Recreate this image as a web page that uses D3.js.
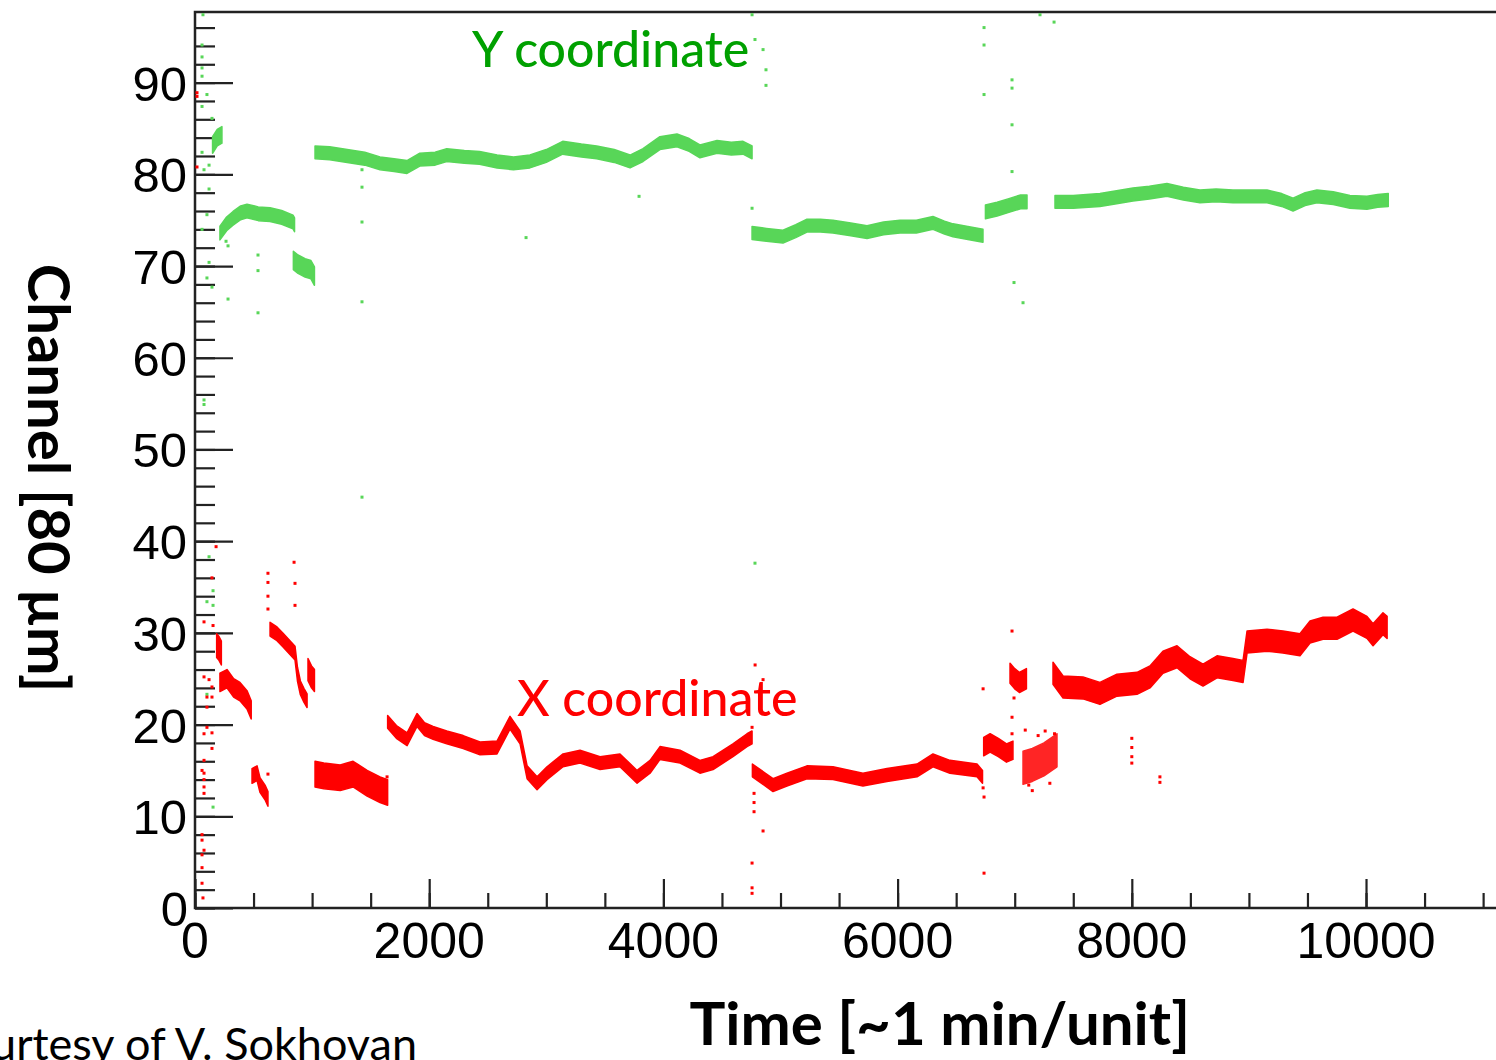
<!DOCTYPE html>
<html>
<head>
<meta charset="utf-8">
<script src="https://cdn.jsdelivr.net/npm/d3@7"></script>
<style>
  body { margin: 0; background: #fff; }
  svg { display: block; }
  .tick-label { font-family: "Liberation Sans", Arial, sans-serif; fill: #000; }
  .title { font-family: Lato, "DejaVu Sans", sans-serif; }
</style>
</head>
<body>
<svg id="chart" width="1496" height="1060"></svg>
<script>
// ---- data: [time, channel] ----
// Y coordinate (green) tracks
const yTrackA = [[150, 83.2], [190, 84.0], [230, 84.3]];
const yTrackB = [[213, 73.6], [270, 74.6], [325, 75.2], [390, 75.8], [444, 76.0], [540, 75.7], [641, 75.6], [740, 75.3], [837, 74.8], [850, 74.5]];
const yTrackC = [[840, 70.6], [880, 70.2], [940, 69.8], [990, 69.6], [1020, 68.9]];
const yTrackD = [[1025, 82.4], [1150, 82.3], [1300, 82.0], [1450, 81.7], [1580, 81.2], [1700, 81.0], [1810, 80.8], [1920, 81.6], [2050, 81.7], [2150, 82.1], [2300, 81.9], [2430, 81.8], [2580, 81.4], [2720, 81.2], [2860, 81.4], [3000, 82.0], [3140, 82.9], [3300, 82.6], [3430, 82.4], [3580, 82.0], [3715, 81.4], [3826, 82.1], [3970, 83.4], [4116, 83.7], [4220, 83.2], [4312, 82.5], [4458, 83.0], [4580, 82.8], [4680, 82.9], [4757, 82.4]];
const yTrackE = [[4757, 73.6], [4880, 73.4], [5021, 73.2], [5130, 73.8], [5226, 74.4], [5340, 74.4], [5448, 74.3], [5600, 74.0], [5739, 73.7], [5880, 74.1], [6020, 74.3], [6160, 74.3], [6302, 74.7], [6400, 74.2], [6473, 73.9], [6600, 73.6], [6729, 73.3]];
const yTrackF = [[6750, 75.9], [6850, 76.2], [6950, 76.6], [7050, 77.0], [7105, 77.0]];
const yTrackG = [[7344, 77.0], [7500, 77.0], [7728, 77.2], [7870, 77.5], [8010, 77.8], [8150, 78.0], [8300, 78.3], [8440, 77.9], [8582, 77.6], [8720, 77.7], [8864, 77.6], [9010, 77.6], [9155, 77.6], [9280, 77.2], [9377, 76.7], [9480, 77.3], [9581, 77.6], [9720, 77.4], [9863, 77.0], [10008, 76.9], [10100, 77.1], [10190, 77.2]];

// X coordinate (red) tracks
const xTrackA = [[185, 28.6], [205, 28.3], [225, 27.8]];
const xTrackB = [[213, 24.6], [273, 25.0], [330, 24.0], [384, 23.6], [444, 22.7], [480, 21.6]];
const xTrackC = [[487, 14.4], [530, 14.7], [555, 13.4], [598, 12.6], [623, 11.9]];
const xTrackD = [[641, 30.4], [700, 29.9], [752, 29.2], [811, 28.4], [854, 27.8], [875, 25.5], [900, 24.0], [930, 23.2], [957, 22.6]];
const xTrackE = [[965, 26.0], [995, 25.2], [1020, 24.8]];
const xTrackF = [[1025, 14.6], [1100, 14.4], [1240, 14.2], [1350, 14.6], [1470, 13.6], [1580, 12.9], [1645, 12.6]];
const xTrackG = [[1645, 20.3], [1720, 19.2], [1811, 18.4], [1896, 20.5], [1960, 19.5], [2033, 19.1], [2150, 18.6], [2290, 18.1], [2434, 17.4], [2579, 17.5], [2690, 20.2], [2776, 18.6], [2836, 14.8], [2921, 13.6], [3006, 14.7], [3143, 16.1], [3288, 16.5], [3459, 15.8], [3629, 16.1], [3775, 14.3], [3886, 15.4], [3971, 16.9], [4142, 16.5], [4312, 15.4], [4424, 15.8], [4594, 17.2], [4714, 18.3], [4757, 18.6]];
const xTrackH = [[4760, 15.0], [4936, 13.4], [5055, 14.0], [5226, 14.8], [5448, 14.7], [5704, 14.0], [5909, 14.5], [6166, 15.0], [6302, 16.1], [6447, 15.4], [6678, 15.0], [6725, 14.3]];
const xTrackI = [[6735, 17.6], [6790, 18.0], [6860, 17.5], [6930, 16.9], [6985, 17.2]];
const xTrackJ = [[6960, 25.6], [7000, 25.0], [7040, 24.6], [7100, 25.0]];
const xTrackK = [[7071, 15.3], [7150, 15.6], [7250, 16.2], [7361, 17.2]];
const xTrackL = [[7327, 25.6], [7413, 24.1], [7583, 24.0], [7728, 23.4], [7873, 24.3], [8044, 24.5], [8155, 25.2], [8266, 26.8], [8386, 27.4], [8497, 26.2], [8608, 25.4], [8728, 26.3], [8864, 26.0], [8950, 25.8], [8984, 29.0], [9155, 29.2], [9291, 29.0], [9436, 28.7], [9522, 30.1], [9633, 30.5], [9752, 30.5], [9889, 31.4], [10008, 30.6], [10060, 29.8], [10145, 31.0], [10180, 30.6]];

// vertical spread of each track, in channels
const yTracks = [yTrackA, yTrackB, yTrackC, yTrackD, yTrackE, yTrackF, yTrackG];
const ySpread = [1.8, 1.5, 2.0, 1.4, 1.4, 1.5, 1.4];
const xTracks = [xTrackA, xTrackB, xTrackC, xTrackD, xTrackE, xTrackF, xTrackG, xTrackH, xTrackI, xTrackJ, xTrackK, xTrackL];
const xSpread = [2.6, 2.0, 1.6, 1.5, 2.4, 2.8, 1.4, 1.4, 2.0, 2.2, 3.6, 2.4];

// single stray points
const greenOutliers = [[68, 97.4], [60, 94.1], [60, 92.8], [60, 91.6], [60, 90.7], [102, 88.7], [60, 87.4], [145, 86.1], [60, 82.4], [120, 81.0], [77, 80.5], [120, 78.4], [102, 75.6], [60, 74.0], [265, 72.7], [282, 72.2], [120, 70.4], [102, 68.7], [145, 67.7], [282, 66.4], [77, 55.4], [77, 54.9], [120, 38.3], [154, 34.6], [102, 33.4], [154, 33.0], [102, 23.3], [154, 11.0], [538, 71.2], [538, 69.5], [538, 64.9], [1426, 80.5], [1426, 78.6], [1426, 74.8], [1426, 66.1], [1426, 44.8], [2827, 73.1], [3792, 77.6], [4757, 97.4], [4782, 94.7], [4851, 93.6], [4876, 91.4], [4876, 89.7], [4757, 76.3], [4782, 37.6], [6738, 96.0], [6738, 94.1], [6738, 88.7], [6977, 90.3], [6977, 89.4], [6977, 85.4], [6977, 80.3], [6994, 68.2], [7071, 66.0], [7216, 97.4], [7336, 96.6]];
const redOutliers = [[17, 88.9], [17, 88.5], [17, 80.8], [180, 39.4], [145, 36.0], [77, 31.2], [154, 30.8], [77, 25.2], [120, 24.9], [145, 24.1], [102, 23.0], [145, 23.0], [102, 21.9], [102, 19.7], [77, 19.0], [145, 19.1], [145, 17.4], [77, 16.1], [60, 15.0], [77, 14.7], [77, 14.0], [77, 13.2], [77, 12.5], [60, 8.0], [60, 7.4], [77, 6.3], [60, 5.8], [60, 4.4], [60, 2.7], [68, 1.1], [623, 36.5], [623, 35.5], [623, 34.0], [623, 32.6], [846, 37.7], [854, 35.4], [854, 33.0], [623, 14.6], [1640, 14.3], [4757, 19.7], [4783, 26.5], [4851, 24.9], [4774, 12.5], [4774, 11.5], [4774, 10.5], [4851, 8.4], [4757, 4.9], [4757, 2.2], [4757, 1.6], [6730, 23.9], [6730, 13.1], [6738, 12.1], [6738, 3.8], [6977, 30.2], [6977, 20.8], [6977, 19.0], [6994, 22.9], [7090, 19.4], [7120, 13.4], [7200, 18.8], [7300, 13.6], [7340, 19.0], [7260, 19.3], [7150, 12.8], [8000, 18.5], [8000, 17.5], [8000, 16.5], [8000, 15.8], [8240, 14.3], [8240, 13.7]];

const xMajorTicks = [0, 2000, 4000, 6000, 8000, 10000];
const yMajorTicks = [0, 10, 20, 30, 40, 50, 60, 70, 80, 90];

// ---- layout ----
const svg = d3.select("#chart");
const frameLeft = 195, frameBottom = 908, frameTop = 12, frameRight = 1496;
const xScale = d3.scaleLinear().domain([0, 11110]).range([frameLeft, frameRight]);
const yScale = d3.scaleLinear().domain([0, 97.7]).range([frameBottom, frameTop]);
const green = "#58d658", red = "#ff0000";

// frame
svg.append("path")
    .attr("d", `M${frameRight + 5},${frameTop}H${frameLeft}V${frameBottom}H${frameRight + 5}`)
    .attr("fill", "none")
    .attr("stroke", "#222")
    .attr("stroke-width", 2.5);

// inward ticks (ROOT style)
const xMinor = d3.range(0, 11001, 500);
svg.append("g")
    .attr("transform", `translate(0,${frameBottom})`)
    .call(d3.axisBottom(xScale).tickValues(xMinor).tickSize(-15).tickFormat(""))
    .call(g => g.select(".domain").remove());
svg.append("g")
    .attr("transform", `translate(0,${frameBottom})`)
    .call(d3.axisBottom(xScale).tickValues(xMajorTicks).tickSize(-29).tickFormat(""))
    .call(g => g.select(".domain").remove());
const yMinor = d3.range(0, 97, 2);
svg.append("g")
    .attr("transform", `translate(${frameLeft},0)`)
    .call(d3.axisLeft(yScale).tickValues(yMinor).tickSize(-20).tickFormat(""))
    .call(g => g.select(".domain").remove());
svg.append("g")
    .attr("transform", `translate(${frameLeft},0)`)
    .call(d3.axisLeft(yScale).tickValues(yMajorTicks).tickSize(-38).tickFormat(""))
    .call(g => g.select(".domain").remove());
svg.selectAll(".tick line").attr("stroke", "#222").attr("stroke-width", 2.2);

// tick labels
svg.append("g").selectAll("text")
    .data(xMajorTicks)
    .join("text")
    .attr("class", "tick-label")
    .attr("x", d => xScale(d))
    .attr("y", 958)
    .attr("text-anchor", "middle")
    .attr("font-size", 50)
    .text(d => d);
svg.append("g").selectAll("text")
    .data(yMajorTicks)
    .join("text")
    .attr("class", "tick-label")
    .attr("x", d => d === 0 ? 188 : 187)
    .attr("y", d => yScale(d) + 18)
    .attr("text-anchor", "end")
    .attr("font-size", 49)
    .text(d => d);

// tracks as bands whose height is the channel spread
const plot = svg.append("g");
function drawTracks(tracks, spreads, color) {
    plot.append("g").selectAll("path")
        .data(tracks)
        .join("path")
        .attr("d", (d, i) => d3.area()
            .x(p => xScale(p[0]))
            .y0(p => yScale(p[1] - spreads[i] / 2))
            .y1(p => yScale(p[1] + spreads[i] / 2))(d))
        .attr("fill", color)
        .attr("stroke", color)
        .attr("stroke-width", 1.5)
        .attr("stroke-linejoin", "round")
        .attr("opacity", (d, i) => spreads[i] > 3 ? 0.85 : 1);
}
drawTracks(yTracks, ySpread, green);
drawTracks(xTracks, xSpread, red);

function drawDots(pts, color) {
    plot.append("g").selectAll("rect")
        .data(pts)
        .join("rect")
        .attr("x", d => xScale(d[0]) - 1.5)
        .attr("y", d => yScale(d[1]) - 1.5)
        .attr("width", 3)
        .attr("height", 3)
        .attr("fill", color);
}
drawDots(greenOutliers, green);
drawDots(redOutliers, red);

// annotations
svg.append("text").attr("class", "title")
    .attr("x", 472).attr("y", 67)
    .attr("font-size", 50).attr("font-weight", 500)
    .attr("fill", "#00a000")
    .text("Y coordinate");
svg.append("text").attr("class", "title")
    .attr("x", 517).attr("y", 716)
    .attr("font-size", 50).attr("font-weight", 500)
    .attr("fill", "#ff0000")
    .text("X coordinate");

// axis titles
svg.append("text").attr("class", "title")
    .attr("x", 1190).attr("y", 1045)
    .attr("text-anchor", "end")
    .attr("font-size", 60).attr("font-weight", 700)
    .text("Time [~1 min/unit]");
svg.append("text").attr("class", "title")
    .attr("transform", "translate(28,478) rotate(90)")
    .attr("text-anchor", "middle")
    .attr("font-size", 58).attr("font-weight", 700)
    .text("Channel [80 µm]");

svg.append("text").attr("class", "title")
    .attr("x", 417).attr("y", 1060)
    .attr("text-anchor", "end")
    .attr("font-size", 45)
    .text("Courtesy of V. Sokhovan");
</script>
</body>
</html>
